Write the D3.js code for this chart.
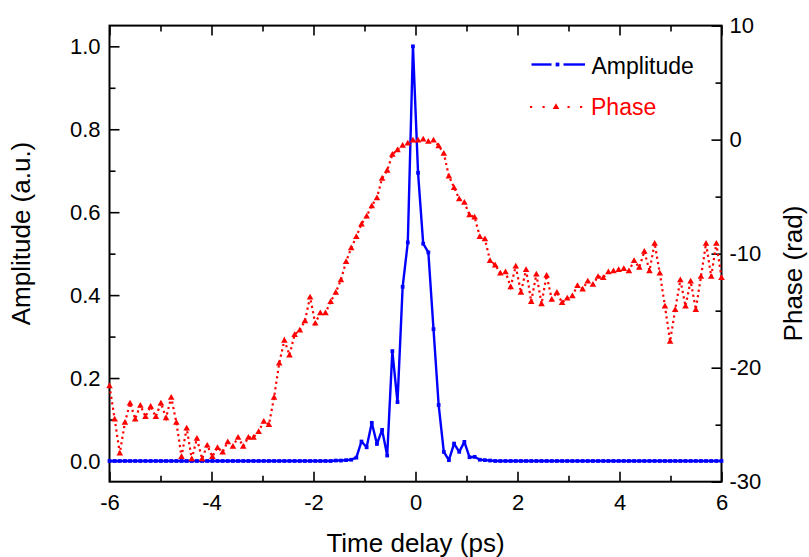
<!DOCTYPE html>
<html>
<head>
<meta charset="utf-8">
<script src="https://cdn.jsdelivr.net/npm/d3@7"></script>
<style>
  body { margin: 0; background: #fff; }
  text { font-family: "Liberation Sans", Arial, sans-serif; }
</style>
</head>
<body>
<div class="chart"></div>
<script>
// time delay grid (ps), 120 samples from -6 to 6
var timeDelay = [
  -6.000, -5.899, -5.798, -5.697, -5.597, -5.496, -5.395, -5.294, -5.193, -5.092,
  -4.992, -4.891, -4.790, -4.689, -4.588, -4.487, -4.387, -4.286, -4.185, -4.084,
  -3.983, -3.882, -3.782, -3.681, -3.580, -3.479, -3.378, -3.277, -3.176, -3.076,
  -2.975, -2.874, -2.773, -2.672, -2.571, -2.471, -2.370, -2.269, -2.168, -2.067,
  -1.966, -1.866, -1.765, -1.664, -1.563, -1.462, -1.361, -1.261, -1.160, -1.059,
  -0.958, -0.857, -0.756, -0.655, -0.555, -0.454, -0.353, -0.252, -0.151, -0.050,
   0.050,  0.151,  0.252,  0.353,  0.454,  0.555,  0.655,  0.756,  0.857,  0.958,
   1.059,  1.160,  1.261,  1.361,  1.462,  1.563,  1.664,  1.765,  1.866,  1.966,
   2.067,  2.168,  2.269,  2.370,  2.471,  2.571,  2.672,  2.773,  2.874,  2.975,
   3.076,  3.176,  3.277,  3.378,  3.479,  3.580,  3.681,  3.782,  3.882,  3.983,
   4.084,  4.185,  4.286,  4.387,  4.487,  4.588,  4.689,  4.790,  4.891,  4.992,
   5.092,  5.193,  5.294,  5.395,  5.496,  5.597,  5.697,  5.798,  5.899,  6.000
];

// amplitude (a.u.)
var amplitude = [
  0, 0, 0, 0, 0, 0, 0, 0, 0, 0,
  0, 0, 0, 0, 0, 0, 0, 0, 0, 0,
  0, 0, 0, 0, 0, 0, 0, 0, 0, 0,
  0, 0, 0, 0, 0, 0, 0, 0, 0, 0,
  0, 0, 0, 0, 0.001, 0.001, 0.002, 0.003, 0.008, 0.047,
  0.033, 0.092, 0.041, 0.075, 0.013, 0.265, 0.142, 0.420, 0.527, 1.000,
  0.695, 0.524, 0.503, 0.318, 0.135, 0.022, 0.002, 0.042, 0.022, 0.046,
  0.009, 0.010, 0.003, 0.002, 0.001, 0, 0, 0, 0, 0,
  0, 0, 0, 0, 0, 0, 0, 0, 0, 0,
  0, 0, 0, 0, 0, 0, 0, 0, 0, 0,
  0, 0, 0, 0, 0, 0, 0, 0, 0, 0,
  0, 0, 0, 0, 0, 0, 0, 0, 0, 0
];

// phase (rad)
var phase = [
  -21.6, -24.5, -27.5, -24.8, -23.1, -24.5, -23.3, -24.3, -23.4, -24.3,
  -23.1, -24.4, -22.6, -24.8, -27.8, -25.3, -28.0, -26.2, -28.0, -26.8,
  -27.8, -27.0, -27.4, -26.5, -26.9, -26.1, -26.9, -26.1, -26.1, -25.6,
  -24.7, -25.0, -22.6, -19.6, -17.6, -18.9, -17.1, -16.7, -15.9, -13.8,
  -16.1, -15.2, -15.2, -14.2, -13.4, -12.3, -10.7, -9.5, -8.5, -7.4,
  -6.7, -5.8, -5.1, -3.4, -2.7, -1.3, -0.9, -0.5, -0.3, -0.05,
  -0.05, 0.05, -0.15, -0.05, -0.55, -1.2, -3.2, -4.2, -5.2, -5.5,
  -6.6, -6.8, -8.5, -8.7, -10.6, -11.0, -11.7, -11.6, -12.9, -11.1,
  -13.4, -11.4, -14.2, -11.8, -14.4, -11.9, -14.0, -13.4, -14.3, -13.9,
  -13.7, -12.8, -13.1, -12.4, -12.7, -12.0, -12.1, -11.6, -11.5, -11.4,
  -11.3, -11.5, -10.6, -11.2, -9.8, -11.5, -9.1, -11.7, -14.6, -17.7,
  -14.9, -12.3, -14.6, -12.4, -14.9, -12.0, -9.1, -12.0, -9.1, -12.1
];

// axis ticks
var xMajorTicks = [-6, -4, -2, 0, 2, 4, 6];
var xMinorTicks = [-5, -3, -1, 1, 3, 5];
var ampMajorTicks = [0, 0.2, 0.4, 0.6, 0.8, 1.0];
var ampMinorTicks = [0.1, 0.3, 0.5, 0.7, 0.9];
var phaseMajorTicks = [-30, -20, -10, 0, 10];
var phaseMinorTicks = [-25, -15, -5, 5];

var legendNames = ["Amplitude", "Phase"];

// ---------- set up ----------
var svgWidth = 809;
var svgHeight = 557;
var plot = { left: 109.5, top: 25.6, right: 721.5, bottom: 481.7 };

var blue = "#0000ff";
var red = "#ff0000";

var svg = d3.select(".chart")
  .append("svg")
  .attr("width", svgWidth)
  .attr("height", svgHeight);

var xScale = d3.scaleLinear().domain([-6, 6]).range([plot.left, plot.right]);
var yAmp = d3.scaleLinear().domain([-0.05, 1.05]).range([plot.bottom, plot.top]);
var yPhase = d3.scaleLinear().domain([-30, 10]).range([plot.bottom, plot.top]);

var rows = timeDelay.map((t, i) => ({ t: t, a: amplitude[i], p: phase[i] }));

// ---------- axes (ticks point inward) ----------
function drawAxis(axisFn, scale, ticks, size, fmt, transform, pad) {
  var g = svg.append("g")
    .attr("transform", transform)
    .call(axisFn(scale).tickValues(ticks).tickSize(-size).tickPadding(pad).tickFormat(fmt));
  g.select(".domain").remove();
  g.selectAll("line").attr("stroke", "#000").attr("stroke-width", 1.6);
  g.selectAll("text").attr("font-size", "22px").attr("fill", "#000");
  return g;
}
var none = () => "";

drawAxis(d3.axisBottom, xScale, xMinorTicks, 6, none, `translate(0,${plot.bottom})`, 0);
drawAxis(d3.axisBottom, xScale, xMajorTicks, 10, d3.format("d"), `translate(0,${plot.bottom})`, 13);
drawAxis(d3.axisTop, xScale, xMinorTicks, 6, none, `translate(0,${plot.top})`, 0);
drawAxis(d3.axisTop, xScale, xMajorTicks, 10, none, `translate(0,${plot.top})`, 0);

drawAxis(d3.axisLeft, yAmp, ampMinorTicks, 6, none, `translate(${plot.left},0)`, 0);
drawAxis(d3.axisLeft, yAmp, ampMajorTicks, 10, d3.format(".1f"), `translate(${plot.left},0)`, 9);

drawAxis(d3.axisRight, yPhase, phaseMinorTicks, 6, none, `translate(${plot.right},0)`, 0);
drawAxis(d3.axisRight, yPhase, phaseMajorTicks, 10, d3.format("d"), `translate(${plot.right},0)`, 8);

// use plain hyphen for negative labels like the original
svg.selectAll(".tick text").text(function() { return d3.select(this).text().replace("\u2212", "-"); });

// frame
svg.append("rect")
  .attr("x", plot.left).attr("y", plot.top)
  .attr("width", plot.right - plot.left).attr("height", plot.bottom - plot.top)
  .attr("fill", "none").attr("stroke", "#000").attr("stroke-width", 2);

// ---------- axis titles ----------
svg.append("text")
  .attr("x", (plot.left + plot.right) / 2).attr("y", 551.5)
  .attr("text-anchor", "middle").attr("font-size", "26px")
  .text("Time delay (ps)");

svg.append("text")
  .attr("transform", "translate(30,233.5) rotate(-90)")
  .attr("text-anchor", "middle").attr("font-size", "26px")
  .text("Amplitude (a.u.)");

svg.append("text")
  .attr("transform", "translate(802,273.5) rotate(-90)")
  .attr("text-anchor", "middle").attr("font-size", "26px")
  .text("Phase (rad)");

// ---------- series ----------
var ampLine = d3.line().x(d => xScale(d.t)).y(d => yAmp(d.a));
var phaseLine = d3.line().x(d => xScale(d.t)).y(d => yPhase(d.p));

svg.append("path")
  .attr("d", ampLine(rows))
  .attr("fill", "none").attr("stroke", blue).attr("stroke-width", 2.4)
  .attr("stroke-linejoin", "round");

svg.append("g").selectAll("path")
  .data(rows).enter().append("path")
  .attr("transform", d => `translate(${xScale(d.t)},${yAmp(d.a)})`)
  .attr("d", d3.symbol(d3.symbolSquare, 14))
  .attr("fill", blue);

svg.append("path")
  .attr("d", phaseLine(rows))
  .attr("fill", "none").attr("stroke", red).attr("stroke-width", 2.2)
  .attr("stroke-dasharray", "2.2,3.3");

svg.append("g").selectAll("path")
  .data(rows).enter().append("path")
  .attr("transform", d => `translate(${xScale(d.t)},${yPhase(d.p) + 0.5})`)
  .attr("d", d3.symbol(d3.symbolTriangle, 19))
  .attr("fill", red);

// ---------- legend ----------
var leg = svg.append("g");
leg.append("line").attr("x1", 531.5).attr("x2", 551.5).attr("y1", 64.5).attr("y2", 64.5)
  .attr("stroke", blue).attr("stroke-width", 2.4);
leg.append("line").attr("x1", 563.5).attr("x2", 585).attr("y1", 64.5).attr("y2", 64.5)
  .attr("stroke", blue).attr("stroke-width", 2.4);
leg.append("path").attr("transform", "translate(557.5,64.5)")
  .attr("d", d3.symbol(d3.symbolSquare, 14)).attr("fill", blue);
leg.append("text").attr("x", 591.5).attr("y", 73.5).attr("font-size", "23px")
  .attr("fill", "#000").text(legendNames[0]);

leg.append("line").attr("x1", 530).attr("x2", 585).attr("y1", 107).attr("y2", 107)
  .attr("stroke", red).attr("stroke-width", 2.2).attr("stroke-dasharray", "2.2,10.3");
leg.append("path").attr("transform", "translate(556,107)")
  .attr("d", d3.symbol(d3.symbolTriangle, 19)).attr("fill", red);
leg.append("text").attr("x", 591).attr("y", 114.5).attr("font-size", "23px")
  .attr("fill", red).text(legendNames[1]);
</script>
</body>
</html>
